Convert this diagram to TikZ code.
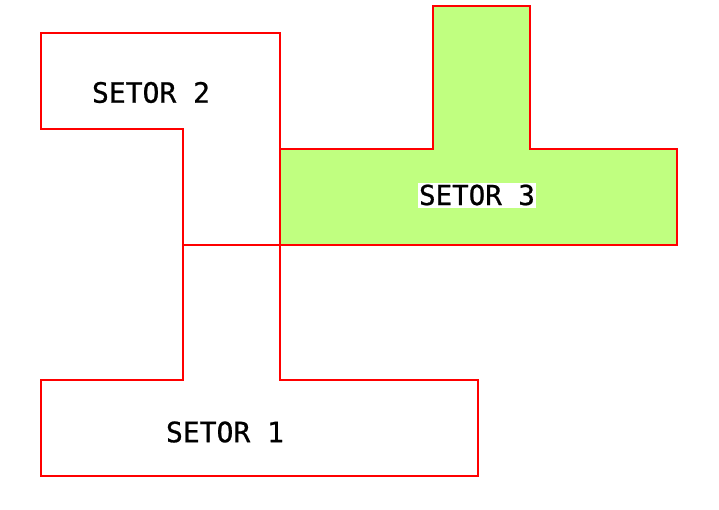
\documentclass[tikz,border=0pt]{standalone}
\usepackage{fontspec}
\newfontfamily\labelfont[FakeBold=0.8]{DejaVu Sans Mono}
\definecolor{wall}{RGB}{255,0,0}
\definecolor{greenfill}{RGB}{192,255,128}
\tikzset{
  wallline/.style={draw=wall, line width=1.6pt, line join=miter},
  setorlabel/.style={font=\labelfont\fontsize{28}{30}\selectfont, text=black, inner xsep=1.5pt, inner ysep=3pt, text height=20.4pt, text depth=0pt},
}
\begin{document}
\begin{tikzpicture}[x=1pt,y=-1pt]
\useasboundingbox (0,0) rectangle (719,509);
% Setor 3 (filled)
\path[fill=greenfill] (280,149) -- (433,149) -- (433,6) -- (530,6) -- (530,149) -- (677,149) -- (677,245) -- (280,245) -- cycle;
\draw[wallline] (280,149) -- (433,149) -- (433,6) -- (530,6) -- (530,149) -- (677,149) -- (677,245) -- (280,245);
% Setor 2
\draw[wallline] (183,245) -- (183,129) -- (41,129) -- (41,33) -- (280,33) -- (280,245);
% Division line
\draw[wallline] (183,245) -- (280,245);
% Setor 1
\draw[wallline] (183,245) -- (183,380) -- (41,380) -- (41,476) -- (478,476) -- (478,380) -- (280,380) -- (280,245);
% Labels
\node[setorlabel] (s2) at (151,92.5) {SETOR 2};
\node[setorlabel, fill=white, font=\labelfont\fontsize{27.5}{29}\selectfont, text height=19pt, inner ysep=3pt] (s3) at (477,195.5) {SETOR 3};
\node[setorlabel] (s1) at (225,432) {SETOR 1};
\end{tikzpicture}
\end{document}
